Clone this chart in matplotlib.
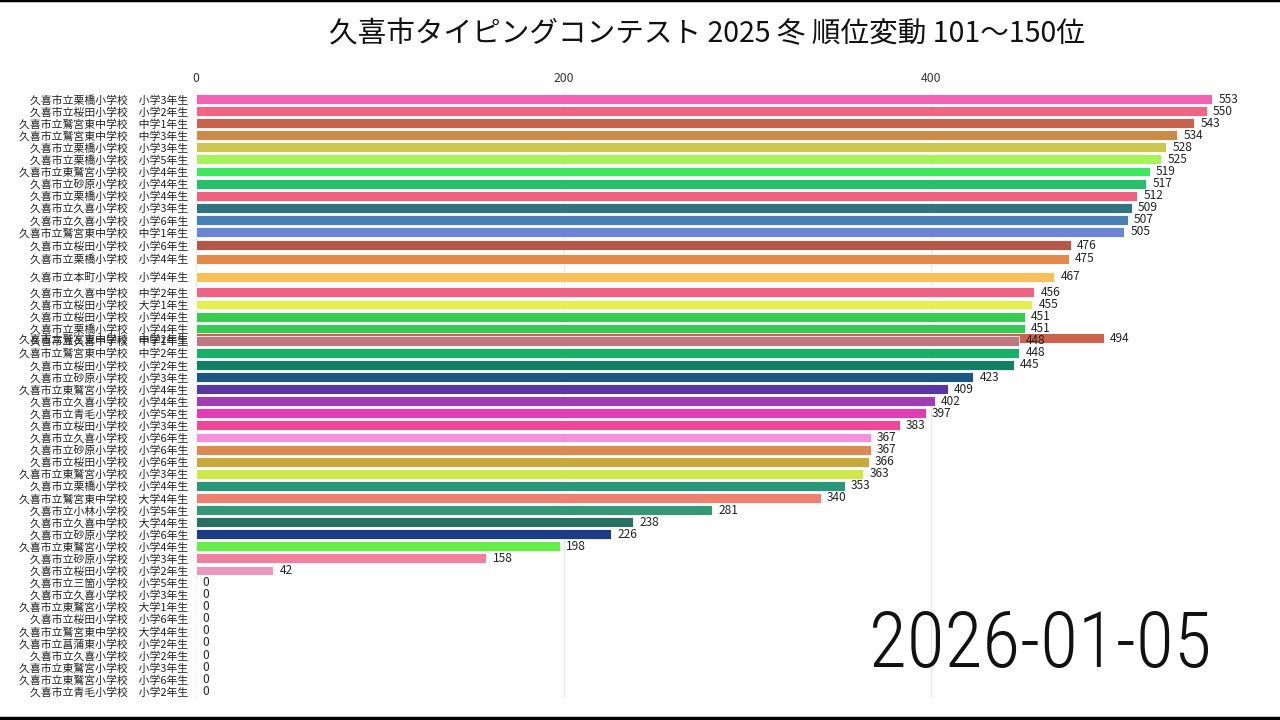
import matplotlib
matplotlib.use("Agg")
import matplotlib.pyplot as plt
from matplotlib.lines import Line2D

plt.rcParams['font.family'] = ['Noto Sans CJK JP', 'DejaVu Sans']

title = "久喜市タイピングコンテスト 2025 冬 順位変動 101〜150位"
date_label = "2026-01-05"

schools = [
    "久喜市立栗橋小学校", "久喜市立桜田小学校", "久喜市立鷲宮東中学校", "久喜市立鷲宮東中学校",
    "久喜市立栗橋小学校", "久喜市立栗橋小学校", "久喜市立東鷲宮小学校", "久喜市立砂原小学校",
    "久喜市立栗橋小学校", "久喜市立久喜小学校", "久喜市立久喜小学校", "久喜市立鷲宮東中学校",
    "久喜市立桜田小学校", "久喜市立栗橋小学校", "久喜市立本町小学校", "久喜市立久喜中学校",
    "久喜市立桜田小学校", "久喜市立桜田小学校", "久喜市立栗橋小学校", "久喜市立鷲宮東中学校",
    "久喜市立久喜中学校", "久喜市立鷲宮東中学校", "久喜市立桜田小学校", "久喜市立砂原小学校",
    "久喜市立東鷲宮小学校", "久喜市立久喜小学校", "久喜市立青毛小学校", "久喜市立桜田小学校",
    "久喜市立久喜小学校", "久喜市立砂原小学校", "久喜市立桜田小学校", "久喜市立東鷲宮小学校",
    "久喜市立栗橋小学校", "久喜市立鷲宮東中学校", "久喜市立小林小学校", "久喜市立久喜中学校",
    "久喜市立砂原小学校", "久喜市立東鷲宮小学校", "久喜市立砂原小学校", "久喜市立桜田小学校",
    "久喜市立三箇小学校", "久喜市立久喜小学校", "久喜市立東鷲宮小学校", "久喜市立桜田小学校",
    "久喜市立鷲宮東中学校", "久喜市立菖蒲東小学校", "久喜市立久喜小学校", "久喜市立東鷲宮小学校",
    "久喜市立東鷲宮小学校", "久喜市立青毛小学校",
]
grades = [
    "小学3年生", "小学2年生", "中学1年生", "中学3年生",
    "小学3年生", "小学5年生", "小学4年生", "小学4年生",
    "小学4年生", "小学3年生", "小学6年生", "中学1年生",
    "小学6年生", "小学4年生", "小学4年生", "中学2年生",
    "大学1年生", "小学4年生", "小学4年生", "中学2年生",
    "中学1年生", "中学2年生", "小学2年生", "小学3年生",
    "小学4年生", "小学4年生", "小学5年生", "小学3年生",
    "小学6年生", "小学6年生", "小学6年生", "小学3年生",
    "小学4年生", "大学4年生", "小学5年生", "大学4年生",
    "小学6年生", "小学4年生", "小学3年生", "小学2年生",
    "小学5年生", "小学3年生", "大学1年生", "小学6年生",
    "大学4年生", "小学2年生", "小学2年生", "小学3年生",
    "小学6年生", "小学2年生",
]
values = [
    553, 550, 543, 534, 528, 525, 519, 517, 512, 509, 507, 505,
    476, 475, 467, 456, 455, 451, 451, 494, 448, 448, 445, 423,
    409, 402, 397, 383, 367, 367, 366, 363, 353, 340, 281, 238,
    226, 198, 158, 42, 0, 0, 0, 0, 0, 0, 0, 0, 0, 0,
]
# animated (interpolated) rank of each bar in this frame
ranks = [
    0, 1, 2, 3, 4, 5, 6, 7, 8, 9, 10, 11,
    12.1, 13.2, 14.7, 16, 17, 18, 19, 19.8, 20.0, 21, 22, 23,
    24, 25, 26, 27, 28, 29, 30, 31, 32, 33, 34, 35,
    36, 37, 38, 39, 40, 41, 42, 43, 44, 45, 46, 47, 48, 49,
]
colors = [
    "#ef62b4", "#ef6584", "#c8644e", "#c88c48", "#cdc752", "#a6f25a",
    "#3fe85e", "#27bf6a", "#ee6280", "#2f7480", "#4680b4", "#6a84d8",
    "#b4584a", "#e48a4c", "#f8c05a", "#ef6484", "#e6ef4e", "#38c94e",
    "#38c955", "#c8644e", "#c07880", "#16b068", "#128064", "#1a5880",
    "#5838a0", "#a03cb4", "#e03cb4", "#ef4896", "#f590dc", "#d88c54",
    "#c8aa3c", "#cde84a", "#2a9878", "#ee8070", "#369878", "#2a7060",
    "#1c3c88", "#66ee4a", "#f080a0", "#e898bc",
    "#dddddd", "#dddddd", "#dddddd", "#dddddd", "#dddddd",
    "#dddddd", "#dddddd", "#dddddd", "#dddddd", "#dddddd",
]
xticks = [0, 200, 400]

fig = plt.figure(figsize=(12.8, 7.2), dpi=100)
ax = fig.add_axes([196 / 1280, 1 - 698 / 720, (1262 - 196) / 1280, (698 - 92) / 720])

labels = [f"{s}\u3000{g}" for s, g in zip(schools, grades)]
ax.barh(ranks, values, height=0.82, color=colors, edgecolor="white", linewidth=0.6, zorder=2)

for r, v in zip(ranks, values):
    ax.annotate(f"{v}", xy=(v, r), xytext=(4.5, 0), textcoords="offset points",
                va="center", ha="left", fontsize=8.6, color="#222222", zorder=3)

ax.set_yticks(ranks)
ax.set_yticklabels(labels, fontsize=7.8, color="#222222")
ax.set_ylim(49.55, -0.58)
ax.set_xlim(0, 580)
ax.set_xticks(xticks)
ax.set_xticklabels([str(x) for x in xticks], fontsize=8.8, color="#333333")
ax.xaxis.tick_top()
ax.tick_params(axis="x", length=0, pad=5)
ax.tick_params(axis="y", length=0, pad=5.5)
ax.grid(axis="x", color="#e6e6e6", linewidth=0.8, zorder=0)
for s in ax.spines.values():
    s.set_visible(False)

fig.text(707 / 1280, 1 - 34 / 720, title, ha="center", va="center", fontsize=20.6, color="#111111")
fig.text(1212 / 1280, 1 - 667 / 720, date_label, ha="right", va="baseline", fontsize=56,
         family=["Roboto Condensed", "DejaVu Sans"], fontweight="light", color="#111111")

fig.add_artist(Line2D([0, 1], [0.9995, 0.9995], color="black", linewidth=2.5, transform=fig.transFigure))
fig.add_artist(Line2D([0, 1], [1 - 717.5 / 720, 1 - 717.5 / 720], color="black", linewidth=2.5,
                      transform=fig.transFigure))

fig.savefig("out.png", dpi=100, facecolor="white")
